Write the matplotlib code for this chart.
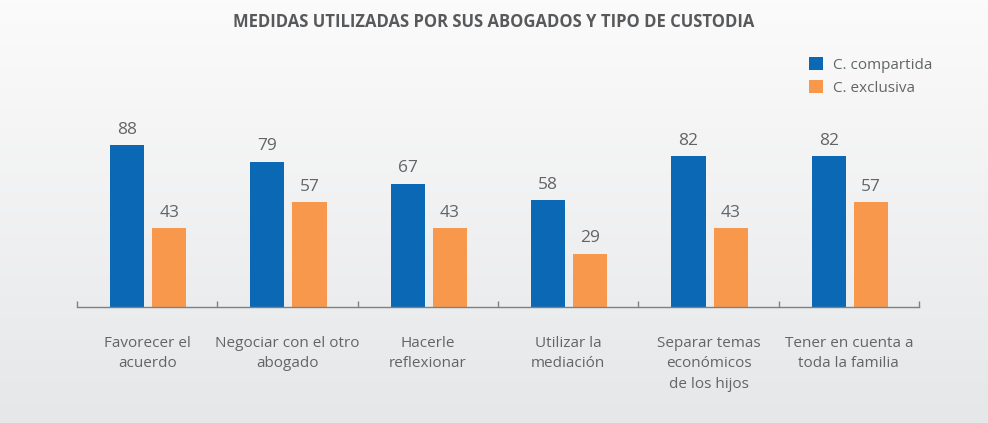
import matplotlib.pyplot as plt
import numpy as np

plt.rcParams['font.family'] = ['Open Sans', 'DejaVu Sans']

categorias = ['Favorecer el\nacuerdo', 'Negociar con el otro\nabogado', 'Hacerle\nreflexionar',
              'Utilizar la\nmediación', 'Separar temas\neconómicos\nde los hijos',
              'Tener en cuenta a\ntoda la familia']
compartida = [88, 79, 67, 58, 82, 82]
exclusiva = [43, 57, 43, 29, 43, 57]

azul = '#0a68b4'
naranja = '#f7984d'
gris = '#636466'

fig = plt.figure(figsize=(9.88, 4.23), dpi=100)

# fondo degradado
bg = fig.add_axes([0, 0, 1, 1], zorder=0)
grad = np.linspace(0, 1, 256).reshape(-1, 1)
top = np.array([0.985, 0.985, 0.985])
bot = np.array([0.902, 0.906, 0.914])
img = top + (bot - top) * grad[:, :, None]
bg.imshow(img, aspect='auto', extent=[0, 1, 0, 1])
bg.axis('off')

ax = fig.add_axes([0.0779, 0.2742, 0.8523, 0.4350], zorder=1)
ax.patch.set_alpha(0)

x = np.arange(len(categorias))
w = 0.243
b1 = ax.bar(x - 0.143, compartida, w, color=azul, label='C. compartida')
b2 = ax.bar(x + 0.157, exclusiva, w, color=naranja, label='C. exclusiva')

for rects, vals in [(b1, compartida), (b2, exclusiva)]:
    for r, v in zip(rects, vals):
        ax.text(r.get_x() + r.get_width() / 2, v + 4, str(v), ha='center', va='bottom',
                fontsize=12.5, color=gris)

ax.set_xlim(-0.5, len(categorias) - 0.5)
ax.set_ylim(0, 100)
for s in ['top', 'right', 'left']:
    ax.spines[s].set_visible(False)
ax.spines['bottom'].set_color('#7f8082')
ax.spines['bottom'].set_linewidth(1.0)
ax.set_yticks([])
ax.set_xticks(np.arange(-0.5, len(categorias)), minor=False)
ax.set_xticklabels([])
ax.tick_params(axis='x', direction='in', length=4, color='#7f8082', width=1)

for xi, lab in zip(x, categorias):
    ax.text(xi, -15.5, lab, ha='center', va='top', fontsize=11, color=gris,
            linespacing=1.5)

ax.legend(loc='upper left', bbox_to_anchor=(0.853, 1.435), frameon=False, fontsize=11,
          labelcolor=gris, handlelength=0.9, handleheight=1.0, handletextpad=0.7,
          labelspacing=0.45)

fig.text(0.5, 0.948, 'MEDIDAS UTILIZADAS POR SUS ABOGADOS Y TIPO DE CUSTODIA',
         ha='center', va='center', fontsize=12, fontweight='bold', color='#58595b')

plt.savefig('out.png', dpi=100)
